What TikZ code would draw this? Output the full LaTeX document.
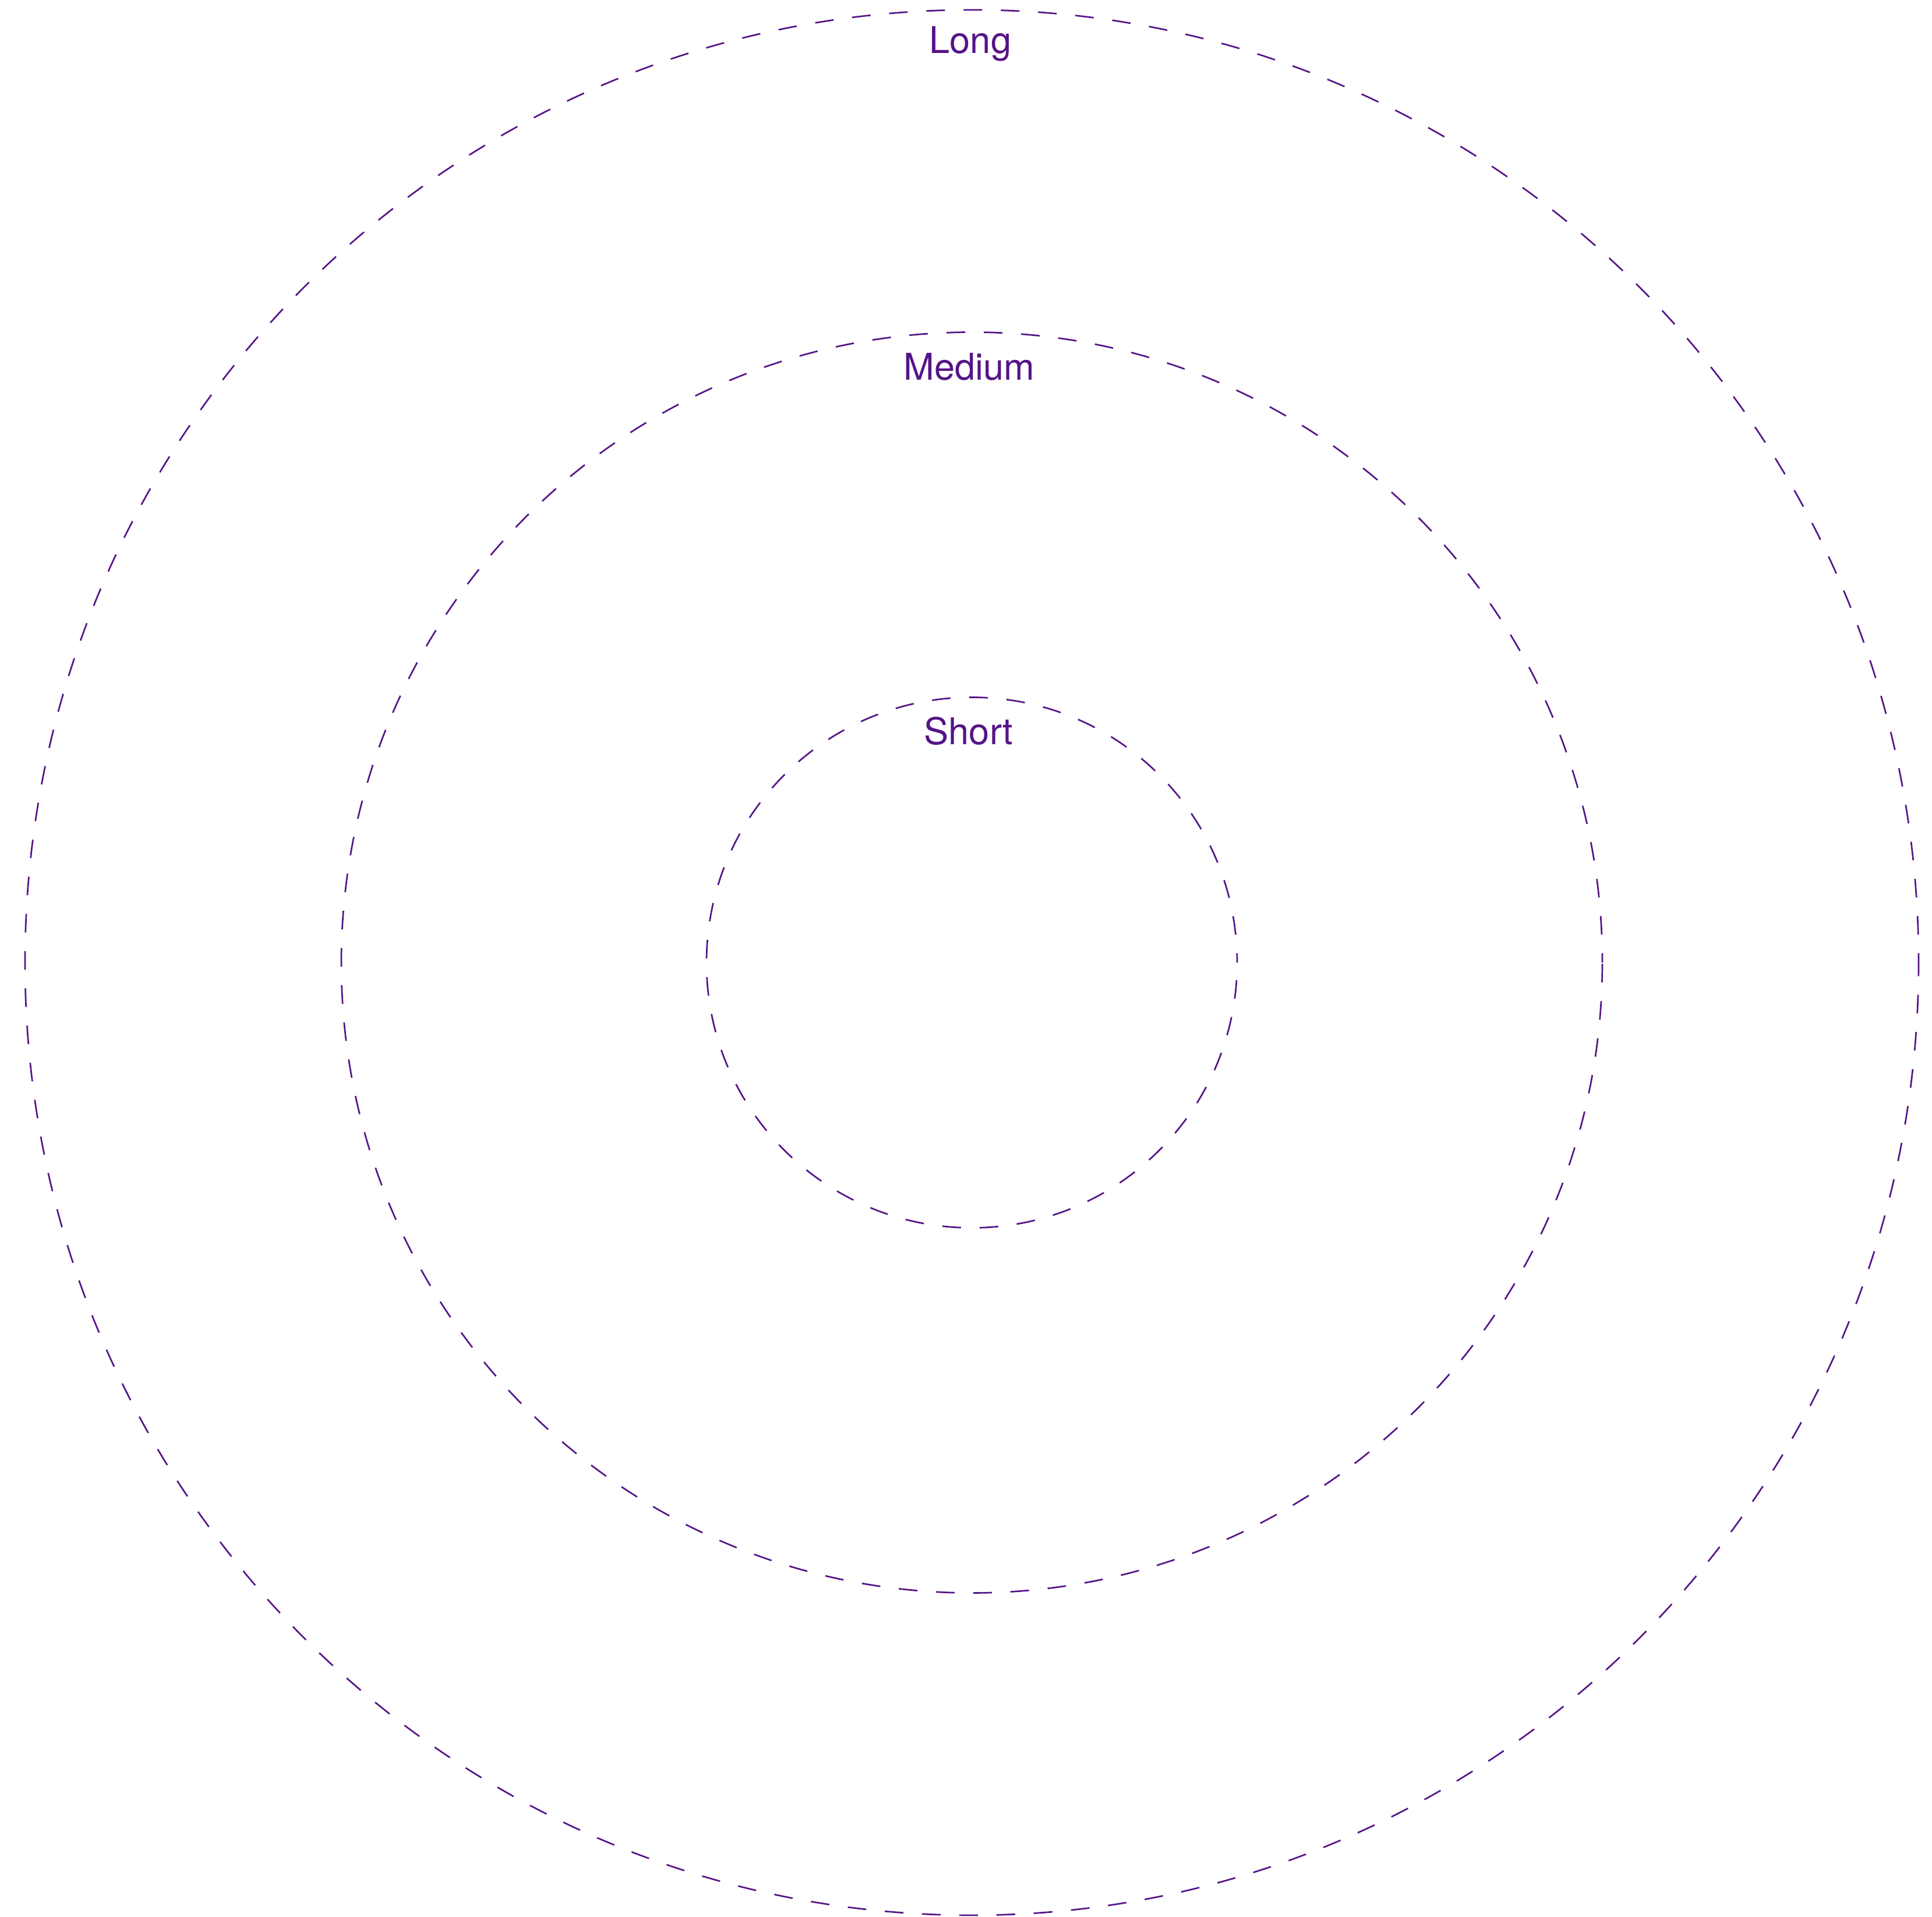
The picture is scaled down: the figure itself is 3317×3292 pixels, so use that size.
\documentclass[tikz,border=0pt]{standalone}
\usepackage{fontspec}
\setmainfont{TeX Gyre Heros}
\definecolor{ringpurple}{RGB}{85,20,135}

\begin{document}
\begin{tikzpicture}[x=0.01cm, y=0.01cm,
	ring/.style={draw=ringpurple, line width=0.77pt, dash pattern=on 9.1pt off 9.1pt, dash phase=4.55pt},
	ringlabel/.style={text=ringpurple, font=\fontsize{18}{21}\selectfont, anchor=base, inner sep=0pt}]
	\useasboundingbox (-1668.5,-1639) rectangle (1648.5,1653);
	\coordinate (centre) at (0,0);
	\draw[ring] (centre) ellipse [x radius=1625.5, y radius=1636];
	\draw[ring] (centre) circle [radius=1082.5];
	\draw[ring] (centre) circle [radius=455.5];
	\node[ringlabel] (long) at (-2.5,1561) {Long};
	\node[ringlabel] (medium) at (-4.5,1000) {Medium};
	\node[ringlabel] (short) at (-5.5,374) {Short};
\end{tikzpicture}
\end{document}
